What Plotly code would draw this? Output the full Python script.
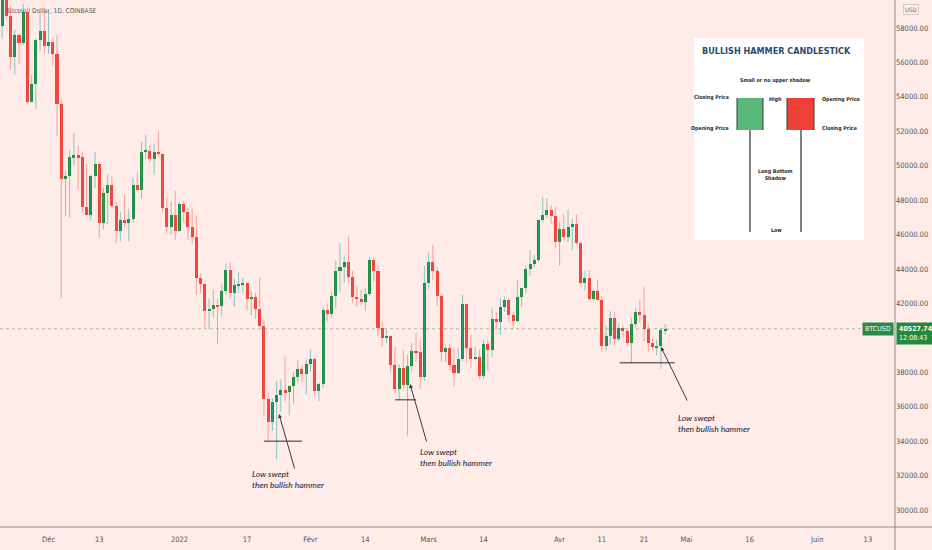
import plotly.graph_objects as go
import pandas as pd

# ---------------- data ----------------
dates = pd.date_range("2021-11-20", "2022-04-26", freq="D")

opens = [58100, 59700, 58700, 56300, 57600, 57150, 58950, 53700, 54750, 57300, 57800,
         56950, 57200, 56500, 53600, 49200, 49400, 50500, 50600, 50500, 47600, 47150, 49400, 50100, 46700, 48400,
         48900, 47650, 46200, 46850, 46700, 46900, 48900, 48600, 50800, 50850, 50400, 50800, 50700, 47550, 46450, 47150,
         46200, 47750, 47300, 46450, 45850, 43450, 43100, 41550, 41700, 41900, 41850, 42750, 43950, 42600, 43070,
         43100, 43180, 42250, 42400, 41700, 40700, 36450, 35100, 36300, 36700, 36950, 36850, 37200, 37750, 38200, 37900,
         38500, 38750, 36900, 37300, 41600, 41400, 42450, 43900, 44100, 44400, 43550, 42400, 42250, 42100,
         42550, 44550, 43900, 40550, 40000, 40100, 38400, 37050, 38250, 37250, 38350, 39250, 39150, 37700,
         43200, 44400, 43900, 42450, 39150, 39400, 38400, 37980, 38750, 41950, 39400, 38800, 38900, 37800,
         39650, 39300, 41100, 40950, 41800, 42200, 41300, 41000, 42350, 42900, 44000, 44300, 44550, 46850,
         47150, 47450, 47100,
         45550, 46300, 45850, 46450, 46600, 45500, 43200, 43450, 42250, 42750, 42200, 39500, 40100, 41150,
         39950, 40550, 40400, 39700, 40800, 41500, 41350, 40500, 39700, 39450, 39500, 40450]
highs = [59850, 60000, 59300, 57900, 57700, 59400, 59200, 55300, 57400, 58900, 59200,
         59000, 57400, 57600, 53850, 49700, 50900, 51900, 51200, 50800, 50100, 49500, 50800, 50200, 48700, 49500,
         49400, 47900, 47300, 48300, 47500, 49300, 49600, 51400, 51800, 51200, 51300, 52000, 50700, 48150, 47900, 48550,
         47900, 47950, 47550, 47500, 47100, 43750, 43150, 42300, 42800, 42250, 43100, 44300, 44400, 43450, 43800,
         43500, 43200, 42700, 42600, 43500, 41100, 36850, 36500, 37500, 37600, 38900, 37250, 38000, 38700, 38400, 38750,
         39300, 38850, 37400, 41800, 41950, 42650, 44500, 45500, 44800, 45900, 43900, 43000, 42800,
         42850, 44700, 44600, 44200, 40950, 40500, 40150, 39500, 38450, 39300, 39000, 39700, 40300, 39900,
         44200, 44950, 45400, 44100, 42500, 39600, 39650, 39450, 39400, 42500, 42000, 40200, 39500, 39300,
         39900, 39900, 41700, 41500, 42300, 42400, 42300, 41500, 43350, 42900, 44200, 45100, 44800, 46900,
         48200, 48100, 47700, 47600,
         46700, 47200, 47450, 46900, 47150, 45500, 43900, 43950, 42800, 43400, 42400, 40700, 41550,
         41500, 40850, 40700, 40600, 41150, 41750, 42200, 42950, 40800, 39950, 39900, 40600, 40800]
lows = [57400, 58500, 55600, 55300, 55900, 57000, 53600, 53700, 53300, 56700, 56500,
        56500, 55800, 51700, 42300, 47100, 47000, 50000, 48600, 47300, 47200, 46800, 48700, 45800, 46300, 46600,
        47500, 45500, 45600, 46400, 45600, 46700, 48500, 48100, 50400, 50200, 49500, 50500, 47300, 46100, 46000, 45700,
        46200, 46700, 45700, 45500, 42500, 42600, 40600, 40500, 41200, 39650, 41300, 42500, 42300, 41800, 42600,
        42600, 41600, 41300, 41100, 40600, 35500, 34000, 34600, 32950, 35700, 36300, 35500, 36200, 37400, 37400, 36700,
        38000, 36600, 36300, 37100, 40950, 41150, 41700, 42700, 43200, 43200, 42000, 41800, 41900,
        41600, 42450, 43300, 40100, 39500, 39700, 38000, 36800, 36400, 37050, 34330, 38050, 38600, 37000,
        37500, 42850, 43350, 41850, 38600, 38600, 38100, 37200, 37900, 38650, 38550, 38250, 38700, 37600,
        37600, 38100, 38900, 40500, 40150, 41500, 40900, 40500, 40900, 41800, 42600, 43600, 44100, 44400,
        46700, 46950, 46600, 45200,
        44200, 45650, 45550, 45100, 45400, 43100, 42750, 42150, 42150, 42400, 39200, 39250, 39600,
        39600, 39800, 40050, 39550, 38550, 40600, 40850, 39800, 39200, 39300, 39000, 38200, 40200]
closes = [59700, 58700, 56300, 57600, 57150, 58950, 53700, 54750, 57300, 57800, 56950,
          57200, 56500, 53600, 49200, 49400, 50500, 50600, 50500, 47600, 47150, 49400, 50100, 46700, 48400, 48900,
          47650, 46200, 46850, 46700, 46900, 48900, 48600, 50800, 50850, 50400, 50800, 50700, 47550, 46450, 47150, 46200,
          47750, 47300, 46450, 45850, 43450, 43100, 41550, 41700, 41900, 41850, 42750, 43950, 42600, 43070, 43100,
          43180, 42250, 42400, 41700, 40700, 36450, 35100, 36300, 36700, 36950, 36850, 37200, 37750, 38200, 37900, 38500,
          38750, 36900, 37300, 41600, 41400, 42450, 43900, 44100, 44400, 43550, 42400, 42250, 42100,
          42550, 44550, 43900, 40550, 40000, 40100, 38400, 37050, 38250, 37250, 38350, 39250, 39150, 37700, 43200,
          44400, 43900, 42450, 39150, 39400, 38400, 37980, 38750, 41950, 39400, 38800, 38900, 37800, 39650,
          39300, 41100, 40950, 41800, 42200, 41300, 41000, 42350, 42900, 44000, 44300, 44550, 46850, 47150,
          47450, 47100, 45550,
          46300, 45850, 46450, 46600, 45500, 43200, 43450, 42250, 42750, 42200, 39500, 40100, 41150, 39950,
          40550, 40400, 39700, 40800, 41500, 41350, 40500, 39700, 39450, 39500, 40450, 40527.74]

price_ticks = [30000, 32000, 34000, 36000, 38000, 42000, 44000, 46000, 48000,
               50000, 52000, 54000, 56000, 58000]
date_ticks = ["2021-12-01", "2021-12-13", "2022-01-01", "2022-01-17", "2022-02-01",
              "2022-02-14", "2022-03-01", "2022-03-14", "2022-04-01", "2022-04-11",
              "2022-04-21", "2022-05-01", "2022-05-16", "2022-06-01", "2022-06-13"]
date_tick_labels = ["Déc", "13", "2022", "17", "Févr", "14", "Mars", "14", "Avr",
                    "11", "21", "Mai", "16", "Juin", "13"]
last_price = 40527.74
countdown = "12:08:43"
symbol = "BTCUSD"
chart_title = "Bitcoin / Dollar, 1D, COINBASE"
note_text = "<i>Low swept<br>then bullish hammer</i>"
swept_dates = ["2022-01-22", "2022-02-22", "2022-04-18"]

# ---------------- styling ----------------
BG = "#FFEBE8"
UP_BODY = "#1F8C3F"
DN_BODY = "#F2443A"
UP_WICK = "rgba(38,166,154,0.55)"
DN_WICK = "rgba(239,83,80,0.5)"
AX_FONT = "Liberation Sans Narrow, DejaVu Sans Condensed, Roboto, sans-serif"
W, H = 932, 550
PLOT_W, PLOT_H = 895, 527


def px(x):
    return x / PLOT_W


def py(y):
    return 1 - y / PLOT_H


fig = go.Figure()

up = [c >= o for o, c in zip(opens, closes)]


def wicks(flag):
    xs, ys = [], []
    for d, h, l, u in zip(dates, highs, lows, up):
        if u == flag:
            xs += [d, d, None]
            ys += [l, h, None]
    return xs, ys


for flag, col in ((True, UP_WICK), (False, DN_WICK)):
    wx, wy = wicks(flag)
    fig.add_trace(go.Scatter(x=wx, y=wy, mode="lines", line=dict(color=col, width=1),
                             hoverinfo="skip", showlegend=False))

for flag, col in ((True, UP_BODY), (False, DN_BODY)):
    bx = [d for d, u in zip(dates, up) if u == flag]
    bb = [min(o, c) for o, c, u in zip(opens, closes, up) if u == flag]
    bh = [max(abs(c - o), 70) for o, c, u in zip(opens, closes, up) if u == flag]
    fig.add_trace(go.Bar(x=bx, y=bh, base=bb, width=0.72 * 86400000,
                         marker=dict(color=col, line=dict(width=0)),
                         showlegend=False, hoverinfo="skip"))

shapes = []
annotations = []

# current price line
shapes.append(dict(type="line", xref="paper", yref="y", x0=0, x1=1, y0=last_price, y1=last_price,
                   line=dict(color="rgba(70,140,60,0.45)", width=1, dash="dot")))

# extended axis lines
shapes.append(dict(type="line", xref="paper", yref="paper", x0=0, x1=W / PLOT_W, y0=0, y1=0,
                   line=dict(color="#8C8C8C", width=1)))
shapes.append(dict(type="line", xref="paper", yref="paper", x0=1, x1=1, y0=-(H - PLOT_H) / PLOT_H, y1=1,
                   line=dict(color="#8C8C8C", width=1)))

# swept-low levels
idx = {d.strftime("%Y-%m-%d"): i for i, d in enumerate(dates)}
level_spans = [("2022-01-21 00:00", "2022-01-30 01:00"),
               ("2022-02-21 02:00", "2022-02-26 00:00"),
               ("2022-04-15 05:00", "2022-04-28 07:00")]
for d, (x0, x1) in zip(swept_dates, level_spans):
    lv = lows[idx[d]]
    shapes.append(dict(type="line", xref="x", yref="y", x0=x0, x1=x1, y0=lv, y1=lv,
                       line=dict(color="#2A2A2A", width=1)))

# arrows + notes
arrow_specs = [((279, 414), (16, 56), (250, 479.5)),
               ((410, 384), (17, 59), (418, 457.5)),
               ((661, 347), (27, 55), (676, 423))]
for (hx, hy), (ax, ay), (tx, ty) in arrow_specs:
    annotations.append(dict(xref="paper", yref="paper", x=px(hx), y=py(hy), ax=ax, ay=ay,
                            text="", showarrow=True, arrowhead=2, arrowsize=0.8,
                            arrowwidth=1, arrowcolor="#3A3A3A"))
    annotations.append(dict(xref="paper", yref="paper", x=px(tx), y=py(ty), text=note_text,
                            showarrow=False, xanchor="left", yanchor="middle", align="left",
                            font=dict(family="Lato, sans-serif", size=8.5, color="#1E2230")))

# title
annotations.append(dict(xref="paper", yref="paper", x=px(4), y=py(11), text=chart_title,
                        showarrow=False, xanchor="left", yanchor="middle",
                        font=dict(family=AX_FONT, size=6.6, color="#5A5A5A")))

# USD tag
annotations.append(dict(xref="paper", yref="paper", x=px(911), y=py(10), text="USD",
                        showarrow=False, xanchor="center", yanchor="middle",
                        font=dict(family=AX_FONT, size=6, color="#6A6A6A"),
                        bordercolor="#D8C8C6", borderwidth=1, borderpad=1, bgcolor=BG))

# price labels
annotations.append(dict(xref="paper", yref="y", x=px(894), y=last_price, text=symbol,
                        showarrow=False, xanchor="right", yanchor="middle",
                        font=dict(family=AX_FONT, size=7, color="white"),
                        bgcolor="#2A8A47", borderpad=2))
annotations.append(dict(xref="paper", yref="y", x=px(896), y=last_price,
                        text="<b>%.2f</b><br>%s" % (last_price, countdown), align="left",
                        showarrow=False, xanchor="left", yanchor="top", yshift=7,
                        font=dict(family=AX_FONT, size=7, color="white"),
                        bgcolor="#22883C", borderpad=2))

# ---------------- info box (illustration) ----------------
def rect(x0, y0, x1, y1, fill, line_w=0, line_c=None):
    shapes.append(dict(type="rect", xref="paper", yref="paper", x0=px(x0), x1=px(x1),
                       y0=py(y1), y1=py(y0), fillcolor=fill, layer="above",
                       line=dict(width=line_w, color=line_c or fill)))


def seg(x0, y0, x1, y1, col, w):
    shapes.append(dict(type="line", xref="paper", yref="paper", x0=px(x0), x1=px(x1),
                       y0=py(y0), y1=py(y1), layer="above", line=dict(color=col, width=w)))


def label(x, y, text, size=5.3, bold=True, color="#2B2B2B", anchor="center", family=AX_FONT):
    annotations.append(dict(xref="paper", yref="paper", x=px(x), y=py(y),
                            text=("<b>%s</b>" % text) if bold else text, showarrow=False,
                            xanchor=anchor, yanchor="middle", align="center",
                            font=dict(family=family, size=size, color=color)))


rect(694, 38, 864, 240, "white")
seg(750, 130, 750, 232, "#808080", 2)
seg(801, 130, 801, 232, "#808080", 2)
rect(737, 98, 763, 130, "#58B97A")
rect(787, 98, 814, 130, "#EE4036")
for xx in (737, 763, 787, 814):
    seg(xx, 98, xx, 130, "#3A3A3A", 1)

label(776.5, 51, "BULLISH HAMMER CANDLESTICK", size=9, color="#2C4A6E")
label(775.5, 80, "Small or no upper shadow")
label(731, 97.5, "Closing Price", anchor="right")
label(731, 128, "Opening Price", anchor="right")
label(775.5, 100, "High")
label(820, 100, "Opening Price", anchor="left")
label(820, 128, "Closing Price", anchor="left")
label(775.5, 174, "Long Bottom<br>Shadow")
label(776, 230, "Low")

fig.update_layout(
    width=W, height=H,
    margin=dict(l=0, r=W - PLOT_W, t=0, b=H - PLOT_H),
    paper_bgcolor=BG, plot_bgcolor=BG,
    barmode="overlay", bargap=0,
    showlegend=False,
    shapes=shapes, annotations=annotations,
    xaxis=dict(type="date", range=["2021-11-19 12:00", "2022-06-19 10:00"],
               tickvals=date_ticks, ticktext=date_tick_labels, showgrid=False,
               zeroline=False, showline=False, ticks="", ticklabelstandoff=6,
               tickfont=dict(family=AX_FONT, size=7.5, color="#555555"),
               fixedrange=True),
    yaxis=dict(side="right", range=[29013, 59626], tickvals=price_ticks,
               ticktext=["%.2f" % v for v in price_ticks], showgrid=False,
               zeroline=False, showline=False, ticks="",
               tickfont=dict(family=AX_FONT, size=7.5, color="#555555"),
               fixedrange=True),
)

fig.write_html("out.html")
